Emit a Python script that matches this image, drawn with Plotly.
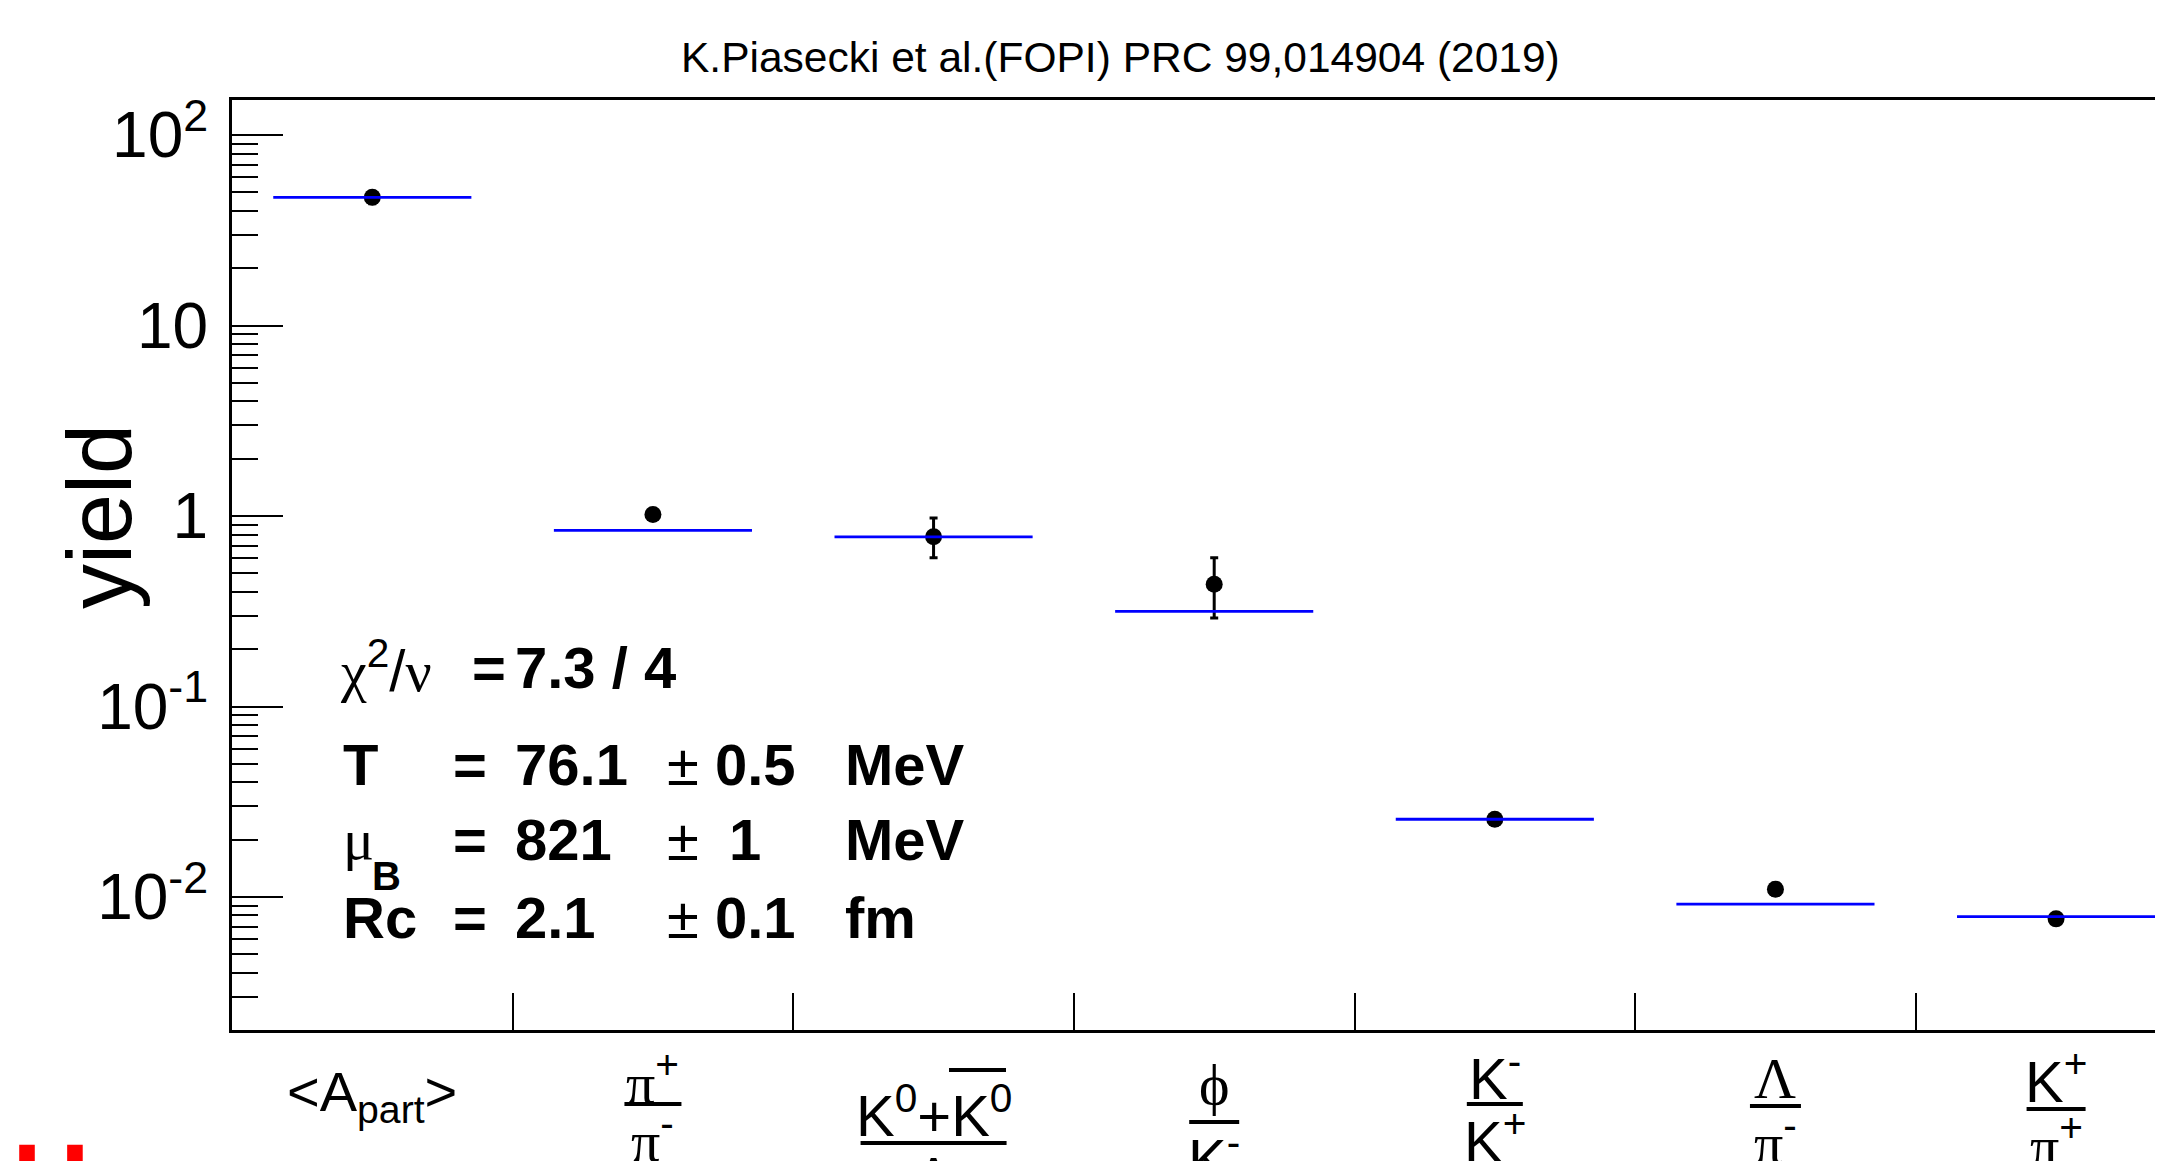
import plotly.graph_objects as go

# ---------------- data ----------------
categories = ["<A_part>", "pi+/pi-", "(K0+K0bar)/Lambda", "phi/K-", "K-/K+", "Lambda/pi-", "K+/pi+"]
SER = "font-family:'Liberation Serif',serif;font-weight:normal"
label_num = ["&lt;A<sub>part</sub>&gt;",
             f"<span style=\"{SER}\">π</span><sup>+</sup>",
             "K<sup>0</sup>+K<sup>0</sup>",
             f"<span style=\"{SER}\">ϕ</span>",
             "K<sup>-</sup>",
             f"<span style=\"{SER}\">Λ</span>",
             "K<sup>+</sup>"]
label_den = ["",
             f"<span style=\"{SER}\">π</span><sup>-</sup>",
             f"<span style=\"{SER}\">Λ</span>",
             "K<sup>-</sup>",
             "K<sup>+</sup>",
             f"<span style=\"{SER}\">π</span><sup>-</sup>",
             f"<span style=\"{SER}\">π</span><sup>+</sup>"]
yield_data = [47.1, 1.02, 0.778, 0.438, 0.0256, 0.0110, 0.00768]
err_plus = [3.5, 0.07, 0.20, 0.166, 0.0018, 0.0008, 0.0005]
err_minus = [3.5, 0.07, 0.174, 0.146, 0.0018, 0.0008, 0.0005]
model = [47.1, 0.84, 0.778, 0.316, 0.0256, 0.00917, 0.00789]
ytick_vals = [0.01, 0.1, 1, 10, 100]
ytick_text = ["10<sup>-2</sup>", "10<sup>-1</sup>", "1", "10", "10<sup>2</sup>"]
title_text = "K.Piasecki et al.(FOPI) PRC 99,014904 (2019)"

# ---------------- layout constants (page pixels) ----------------
PAGE_W, PAGE_H = 2163, 1161
OFF = 8                      # default body margin of the html page
W, H = PAGE_W - OFF, PAGE_H - OFF
L, T, BOT = 232, 100, 1030   # plot frame in page pixels
PW, PH = PAGE_W - L, BOT - T
XR = [-0.5, 6.381]
YR = [-2.698, 2.184]
BINPX = PW / (XR[1] - XR[0])
MODEL_HALF = 0.353
FONT = "Liberation Sans, Arial, Helvetica, sans-serif"


def px_x(p):
    return (p - L) / PW


def px_y(p):
    return (BOT - p) / PH


fig = go.Figure()

fig.add_trace(go.Scatter(
    x=list(range(len(categories))), y=yield_data, mode="markers",
    marker=dict(color="black", size=17, symbol="circle"),
    error_y=dict(type="data", symmetric=False, array=err_plus, arrayminus=err_minus,
                 color="black", thickness=3, width=4),
    showlegend=False, cliponaxis=False))

mx, my = [], []
for i, m in enumerate(model):
    mx += [i - MODEL_HALF, i + MODEL_HALF, None]
    my += [m, m, None]
fig.add_trace(go.Scatter(x=mx, y=my, mode="lines",
                         line=dict(color="#0000ff", width=2.8), showlegend=False))

minor_vals = [k * 10 ** d for d in range(-3, 3) for k in range(2, 10)
              if 10 ** YR[0] <= k * 10 ** d <= 10 ** YR[1]]

fig.update_layout(
    width=W, height=H,
    margin=dict(l=L - OFF, r=0, t=T - OFF, b=H - (BOT - OFF), pad=0),
    paper_bgcolor="white", plot_bgcolor="white",
    font=dict(family=FONT, color="black"),
    xaxis=dict(range=XR, tickvals=[i + 0.5 for i in range(len(categories) - 1)],
               ticks="inside", ticklen=37, tickwidth=2, tickcolor="black",
               showticklabels=False, showline=True, linecolor="black", linewidth=3,
               mirror=True, showgrid=False, zeroline=False),
    yaxis=dict(type="log", range=YR, tickvals=ytick_vals, ticktext=ytick_text,
               ticks="inside", ticklen=51, tickwidth=2, tickcolor="black",
               tickfont=dict(size=64, family=FONT), ticklabelstandoff=8,
               minor=dict(tickvals=minor_vals, ticks="inside", ticklen=26,
                          tickwidth=2, tickcolor="black", showgrid=False),
               showline=True, linecolor="black", linewidth=3, mirror=False,
               showgrid=False, zeroline=False),
)

ann = []
# title
ann.append(dict(text=title_text, x=px_x(1120), y=px_y(58), xref="paper", yref="paper",
                showarrow=False, font=dict(size=42.5, family=FONT), xanchor="center", yanchor="middle"))
# y title
ann.append(dict(text="yield", x=px_x(100), y=px_y(517), xref="paper", yref="paper",
                showarrow=False, textangle=-90, font=dict(size=90, family=FONT),
                xanchor="center", yanchor="middle"))

# fit-result box
BF = 58
rows = [
    (667, [(338, f"<span style=\"{SER}\">χ</span><sup>2</sup>/<span style=\"{SER}\">ν</span>"),
           (470, "<b>=</b>"), (513, "<b>7.3 / 4</b>")]),
    (764, [(341, "<b>T</b>"), (451, "<b>=</b>"), (513, "<b>76.1</b>"),
           (665, "±"), (713, "<b>0.5</b>"), (843, "<b>MeV</b>")]),
    (839, [(341, f"<span style=\"{SER}\">μ</span>"), (451, "<b>=</b>"),
           (513, "<b>821</b>"), (665, "±"), (727, "<b>1</b>"),
           (843, "<b>MeV</b>")]),
    (917, [(341, "<b>Rc</b>"), (451, "<b>=</b>"), (513, "<b>2.1</b>"),
           (665, "±"), (713, "<b>0.1</b>"), (843, "<b>fm</b>")]),
]
for yc, items in rows:
    for xl, txt in items:
        ann.append(dict(text=txt, x=px_x(xl), y=px_y(yc), xref="paper", yref="paper",
                        showarrow=False, font=dict(size=BF, family=FONT),
                        xanchor="left", yanchor="middle"))
ann.append(dict(text="<b>B</b>", x=px_x(370), y=px_y(876), xref="paper", yref="paper",
                showarrow=False, font=dict(size=40, family=FONT), xanchor="left", yanchor="middle"))

# x category labels (fractions)
LF = 58
num_size = [56, LF, LF, LF, LF, LF, LF]
num_y = [1095, 1079, 1111, 1084, 1074, 1078, 1077]
bar_y = [None, 1104, 1143, 1122, 1104, 1106, 1109]
bar_w = [0, 57, 146, 50, 56, 51, 59]
shapes = []
for i in range(len(categories)):
    ann.append(dict(text=label_num[i], x=i, y=px_y(num_y[i]), xref="x", yref="paper",
                    showarrow=False, font=dict(size=num_size[i], family=FONT),
                    xanchor="center", yanchor="middle"))
    if bar_y[i] is not None:
        hw = bar_w[i] / 2 / BINPX
        shapes.append(dict(type="line", xref="x", yref="paper", x0=i - hw, x1=i + hw,
                           y0=px_y(bar_y[i]), y1=px_y(bar_y[i]),
                           line=dict(color="black", width=4)))
        ann.append(dict(text=label_den[i], x=i, y=px_y(bar_y[i] + 33), xref="x", yref="paper",
                        showarrow=False, font=dict(size=LF, family=FONT),
                        xanchor="center", yanchor="middle"))
# overline of anti-K0
shapes.append(dict(type="line", xref="paper", yref="paper", x0=px_x(949), x1=px_x(1006),
                   y0=px_y(1070), y1=px_y(1070), line=dict(color="black", width=4)))

# red text cut by the bottom edge
ann.append(dict(text="<b>IH</b>", x=px_x(-20), y=px_y(1119), xref="paper", yref="paper",
                showarrow=False, font=dict(size=108, family=FONT, color="#ff0000"),
                xanchor="left", yanchor="top"))

fig.update_layout(annotations=ann, shapes=shapes)
fig.write_html("out.html")
